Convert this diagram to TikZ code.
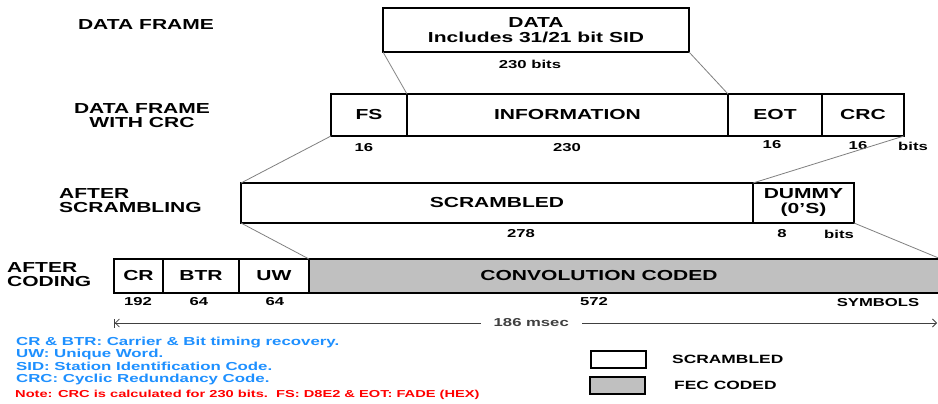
\documentclass[tikz,border=0pt]{standalone}
\usepackage{fontspec}
\setmainfont{Liberation Sans}[FakeStretch=1.45]
\usetikzlibrary{arrows.meta,positioning}
\definecolor{fecgray}{RGB}{192,192,192}
\definecolor{noteblue}{RGB}{30,144,255}
\definecolor{notered}{RGB}{255,0,0}
\tikzstyle{field}=[
	rectangle,
	draw=black,
	line width=2.5,
	inner sep=0,
	outer sep=0,
	align=center,
	font=\bfseries\fontsize{14.5}{15}\selectfont]
\tikzstyle{coded}=[
	field,
	fill=fecgray]
\tikzstyle{rowlabel}=[
	inner sep=0,
	font=\bfseries\fontsize{14.5}{14}\selectfont]
\tikzstyle{bitcount}=[
	inner sep=0,
	font=\bfseries\fontsize{11.5}{12}\selectfont]
\tikzstyle{zoomline}=[
	draw=gray,
	line width=0.8]
\tikzstyle{notes}=[
	inner sep=0,
	align=left,
	font=\bfseries\fontsize{11.6}{12.3}\selectfont]

\begin{document}
\begin{tikzpicture}[x=1pt,y=-1pt]
	\clip (0,0) rectangle (938,404);
	\fill[white] (0,0) rectangle (938,404);
	\begin{scope}[node distance=0]
	% row labels
	\node[rowlabel,align=center]	(lab1)	at (146,25)	{DATA FRAME};
	\node[rowlabel,align=center]	(lab2)	at (142,116)	{DATA FRAME\\WITH CRC};
	\node[rowlabel,align=left,anchor=west]	(lab3)	at (59,201)	{AFTER\\SCRAMBLING};
	\node[rowlabel,align=left,anchor=west]	(lab4)	at (7,275)	{AFTER\\CODING};
	% data frame
	\node[field,minimum width=306,minimum height=44,anchor=north west]	(data)	at (383,8)	{DATA\\Includes 31/21 bit SID};
	\node[bitcount]	(ndata)	at (530,64)	{230 bits};
	% with crc
	\node[field,minimum width=76,minimum height=42,anchor=north west]	(fs)	at (331,94)	{FS};
	\node[field,minimum width=321,minimum height=42]	(info)	[right=of fs]	{INFORMATION};
	\node[field,minimum width=94,minimum height=42]	(eot)	[right=of info]	{EOT};
	\node[field,minimum width=82,minimum height=42]	(crc)	[right=of eot]	{CRC};
	\node[bitcount]	(nfs)	at (364,148)	{16};
	\node[bitcount]	(ninfo)	at (567,148)	{230};
	\node[bitcount]	(neot)	at (772,145)	{16};
	\node[bitcount]	(ncrc)	at (858,146)	{16};
	\node[bitcount]	(ubits1)	at (913,146)	{bits};
	\draw[zoomline]	(data.south west) -- (info.north west);
	\draw[zoomline]	(data.south east) -- (eot.north west);
	% after scrambling
	\node[field,minimum width=512,minimum height=40,anchor=north west]	(scr)	at (241,183)	{SCRAMBLED};
	\node[field,minimum width=101,minimum height=40]	(dummy)	[right=of scr]	{DUMMY\\(0'S)};
	\node[bitcount]	(nscr)	at (521,234)	{278};
	\node[bitcount]	(ndummy)	at (782,234)	{8};
	\node[bitcount]	(ubits2)	at (839,234)	{bits};
	\draw[zoomline]	(fs.south west) -- (scr.north west);
	\draw[zoomline]	(crc.south east) -- (dummy.north west);
	% after coding
	\node[field,minimum width=49,minimum height=34,anchor=north west]	(cr)	at (114,259)	{CR};
	\node[field,minimum width=76,minimum height=34]	(btr)	[right=of cr]	{BTR};
	\node[field,minimum width=70,minimum height=34]	(uw)	[right=of btr]	{UW};
	\node[coded,minimum width=632,minimum height=34]	(conv)	[right=of uw]	{};
	\node[rowlabel]	(convtext)	at ([xshift=-26]conv.center)	{CONVOLUTION CODED};
	\node[bitcount]	(ncr)	at (138,302)	{192};
	\node[bitcount]	(nbtr)	at (199,302)	{64};
	\node[bitcount]	(nuw)	at (275,302)	{64};
	\node[bitcount]	(nconv)	at (594,302)	{572};
	\node[bitcount]	(usym)	at (878,303)	{SYMBOLS};
	\draw[zoomline]	(scr.south west) -- (conv.north west);
	\draw[zoomline]	(dummy.south east) -- (conv.north east);
	% frame time
	\coordinate	(tstart)	at (114,323);
	\coordinate	(tend)	at (937,323);
	\draw[black!75,line width=0.8,{Bar[width=9]Straight Barb[length=4,width=8]}-{Straight Barb[length=4,width=8]}]
		(tstart) -- node[bitcount,fill=white,inner xsep=13,inner ysep=2,pos=0.507]{186 msec} (tend);
	% notes
	\node[notes,text=noteblue,anchor=west]	(abbr)	at (16,361)	{CR \& BTR: Carrier \& Bit timing recovery.\\UW: Unique Word.\\SID: Station Identification Code.\\CRC: Cyclic Redundancy Code.};
	\node[notes,text=notered,anchor=west,font=\bfseries\fontsize{10.1}{11}\selectfont]	(note)	at (15,395)	{Note: CRC is calculated for 230 bits.\ \ FS: D8E2 \& EOT: FADE (HEX)};
	% key
	\node[field,minimum width=55,minimum height=17,anchor=north west]	(keyscr)	at (591,351)	{};
	\node[coded,minimum width=55,minimum height=17,anchor=north west]	(keyfec)	at (590,377)	{};
	\node[bitcount,font=\bfseries\fontsize{12}{12}\selectfont]	(keyscrtext)	[right=26 of keyscr]	{SCRAMBLED};
	\node[bitcount,font=\bfseries\fontsize{12}{12}\selectfont]	(keyfectext)	[right=29 of keyfec]	{FEC CODED};
	\end{scope}
\end{tikzpicture}
\end{document}
